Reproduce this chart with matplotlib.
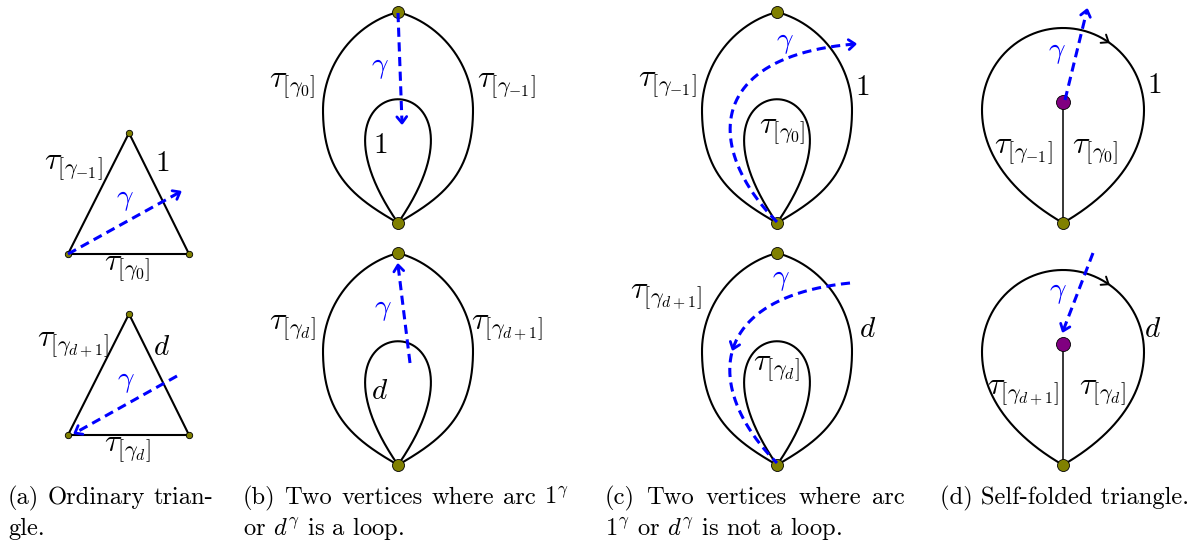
import numpy as np
import matplotlib.pyplot as plt

plt.rcParams['font.family'] = ['cmr10', 'DejaVu Serif']
plt.rcParams['mathtext.fontset'] = 'cm'
plt.rcParams['axes.formatter.use_mathtext'] = True

# everything is in pixel coordinates of the 1201x549 picture, y pointing down
# (a) ordinary triangles
tri_top = [(129, 133), (68, 254), (189, 254)]
tri_bot = [(129, 314), (68, 435), (189, 435)]
# (b), (c) two vertices joined by two arcs, plus a loop at the bottom vertex
lens_cx = [398, 777]
lens_yt = [12, 253]
lens_yb = [223, 465]
# (d) self-folded triangles
fold_cx = 1063
fold_yb = [223, 465]
punct_y = [102, 344]

OLIVE = '#808000'
PURPLE = '#800080'
BLUE = '#0000ff'
DASH = (0, (3.0, 1.8))

tau_labels = [
    (73, 168, r'$\tau_{[\gamma_{-1}]}$'), (127, 269, r'$\tau_{[\gamma_0]}$'),
    (73, 345, r'$\tau_{[\gamma_{d+1}]}$'), (127, 450, r'$\tau_{[\gamma_d]}$'),
    (292, 86, r'$\tau_{[\gamma_0]}$'), (506, 86, r'$\tau_{[\gamma_{-1}]}$'),
    (292, 328, r'$\tau_{[\gamma_d]}$'), (507, 328, r'$\tau_{[\gamma_{d+1}]}$'),
    (667, 85, r'$\tau_{[\gamma_{-1}]}$'), (782, 132, r'$\tau_{[\gamma_0]}$'),
    (666, 297, r'$\tau_{[\gamma_{d+1}]}$'), (776, 369, r'$\tau_{[\gamma_d]}$'),
    (1023, 152, r'$\tau_{[\gamma_{-1}]}$'), (1095, 152, r'$\tau_{[\gamma_0]}$'),
    (1023, 393, r'$\tau_{[\gamma_{d+1}]}$'), (1102, 393, r'$\tau_{[\gamma_d]}$'),
]
arc_labels = [
    (162, 164, r'$1$'), (162, 348, r'$d$'), (380, 146, r'$1$'), (380, 392, r'$d$'),
    (862, 88, r'$1$'), (868, 330, r'$d$'), (1154, 86, r'$1$'), (1153, 330, r'$d$'),
]
gamma_labels = [(125, 200), (126, 382), (380, 68), (383, 310),
                (785, 43), (781, 280), (1057, 53), (1058, 293)]

# caption lines: (x_left, x_right or None, baseline, words)
captions = [
    (8, 213, 504, ['(a)', 'Ordinary', 'trian-']),
    (8, None, 535, ['gle.']),
    (243, 569, 504, ['(b)', 'Two', 'vertices', 'where', 'arc', r'1$^\gamma$']),
    (243, None, 535, [r'or $d^\gamma$ is a loop.']),
    (605, 905, 504, ['(c)', 'Two', 'vertices', 'where', 'arc']),
    (605, None, 535, [r'1$^\gamma$ or $d^\gamma$ is not a loop.']),
    (940, None, 504, ['(d) Self-folded triangle.']),
]


def bez(p0, p1, p2, p3, n=200):
    t = np.linspace(0, 1, n)[:, None]
    p = [np.asarray(v, float) for v in (p0, p1, p2, p3)]
    return ((1 - t) ** 3 * p[0] + 3 * (1 - t) ** 2 * t * p[1]
            + 3 * (1 - t) * t ** 2 * p[2] + t ** 3 * p[3])


def seg(p, q, n=50):
    t = np.linspace(0, 1, n)[:, None]
    return (1 - t) * np.asarray(p, float) + t * np.asarray(q, float)


def unit(deg):
    r = np.radians(deg)
    return np.array([np.cos(r), np.sin(r)])


def side(T, L, B, a_top, a_bot, r1, r2, r3, r4, s):
    # curve from T through the widest point L (vertical tangent) to B
    T, L, B = (np.asarray(v, float) for v in (T, L, B))
    d1 = unit(a_top) * [s, 1]
    d2 = unit(a_bot) * [s, -1]
    c1 = bez(T, T + r1 * d1, L + [0, -r2], L)
    c2 = bez(L, L + [0, r3], B + r4 * d2, B)
    return np.vstack([c1, c2])


def chevron(ax, tip, d, size=8, ang=38, color=BLUE, lw=2.0):
    d = np.asarray(d, float)
    d = d / np.hypot(*d)
    tip = np.asarray(tip, float)
    pts = []
    for s in (ang, -ang):
        r = np.radians(s)
        rot = np.array([[np.cos(r), -np.sin(r)], [np.sin(r), np.cos(r)]])
        pts.append(tip - size * rot @ d)
    ax.plot([pts[0][0], tip[0], pts[1][0]], [pts[0][1], tip[1], pts[1][1]],
            color=color, lw=lw, solid_capstyle='round', zorder=5)


def dashed(ax, pts, tip=True):
    ax.plot(pts[:, 0], pts[:, 1], color=BLUE, lw=2.2, ls=DASH, zorder=5)
    if tip:
        chevron(ax, pts[-1], pts[-1] - pts[-6])


def vertex(ax, x, y, r=6.0, color=OLIVE):
    ax.plot(x, y, 'o', ms=r * 2 * 0.72, mfc=color, mec='k', mew=0.6, zorder=4)


fig = plt.figure(figsize=(12.01, 5.49), dpi=100)
ax = fig.add_axes([0, 0, 1, 1])
ax.set_xlim(0, 1201)
ax.set_ylim(549, 0)
ax.axis('off')

# (a)
for tri in (tri_top, tri_bot):
    xs = [p[0] for p in tri] + [tri[0][0]]
    ys = [p[1] for p in tri] + [tri[0][1]]
    ax.plot(xs, ys, 'k', lw=1.5, zorder=2)
    for x, y in tri:
        vertex(ax, x, y, r=3.2)
dashed(ax, seg((68, 254), (180, 192)))
dashed(ax, seg((177, 376), (75, 433)))

# (b) and (c)
for cx in lens_cx:
    for yt, yb in zip(lens_yt, lens_yb):
        for s in (-1, 1):
            c = side((cx, yt), (cx + s * 75, yt + 98), (cx, yb), 15, 30, 45, 45, 65, 50, s)
            ax.plot(c[:, 0], c[:, 1], 'k', lw=1.5, zorder=2)
        loop = bez((cx, yb), (cx - 114, yb - 165), (cx + 114, yb - 165), (cx, yb))
        ax.plot(loop[:, 0], loop[:, 1], 'k', lw=1.5, zorder=2)
        vertex(ax, cx, yt)
        vertex(ax, cx, yb)

dashed(ax, seg((398, 13), (402, 123)))
dashed(ax, seg((410, 363), (398, 265)))

g = bez((777, 222), (705, 149), (705, 56), (855, 44))
dashed(ax, g)
g2 = bez((850, 283), (705, 298), (705, 391), (777, 463))
dashed(ax, g2, tip=False)
i = np.argmin(np.abs(g2[:, 1] - 349) + 1000 * (g2[:, 0] > 760))
chevron(ax, g2[i], g2[i] - g2[i - 5])

# (d)
for k, yb in enumerate(fold_yb):
    top = (fold_cx, yb - 195)
    left = side(top, (fold_cx - 81, yb - 113), (fold_cx, yb), 0, 30, 45, 45, 50, 50, -1)
    right = side(top, (fold_cx + 81, yb - 113), (fold_cx, yb), 0, 30, 45, 45, 50, 50, 1)
    loop = np.vstack([left[::-1], right])   # clockwise on screen
    ax.plot(loop[:, 0], loop[:, 1], 'k', lw=1.5, zorder=2)
    ax.plot([fold_cx, fold_cx], [punct_y[k], yb], 'k', lw=1.1, zorder=2)
    j = np.argmin(np.hypot(loop[:, 0] - 1109, loop[:, 1] - (yb - 181)))
    chevron(ax, loop[j], loop[j] - loop[j - 5], color='k', lw=1.4, size=8)
    vertex(ax, fold_cx, yb)
    vertex(ax, fold_cx, punct_y[k], r=7, color=PURPLE)
dashed(ax, seg((1065, 100), (1087, 10)))
dashed(ax, seg((1093, 253), (1063, 331)))

for x, y, s in tau_labels:
    ax.text(x, y, s, fontsize=23, ha='center', va='center', zorder=6)
for x, y, s in arc_labels:
    ax.text(x, y, s, fontsize=21, ha='center', va='center', zorder=6)
for x, y in gamma_labels:
    ax.text(x, y, r'$\gamma$', color=BLUE, fontsize=21, ha='center', va='center', zorder=6)

# captions, full lines justified between the two margins like the LaTeX source
renderer = fig.canvas.get_renderer()
for x0, x1, y, words in captions:
    texts = [ax.text(x0, y, w, fontsize=17.7, ha='left', va='baseline') for w in words]
    if x1 is None:
        continue
    widths = [t.get_window_extent(renderer).width for t in texts]
    gap = (x1 - x0 - sum(widths)) / (len(words) - 1)
    x = x0
    for t, w in zip(texts, widths):
        t.set_x(x)
        x += w + gap

fig.savefig('out.png', dpi=100)
